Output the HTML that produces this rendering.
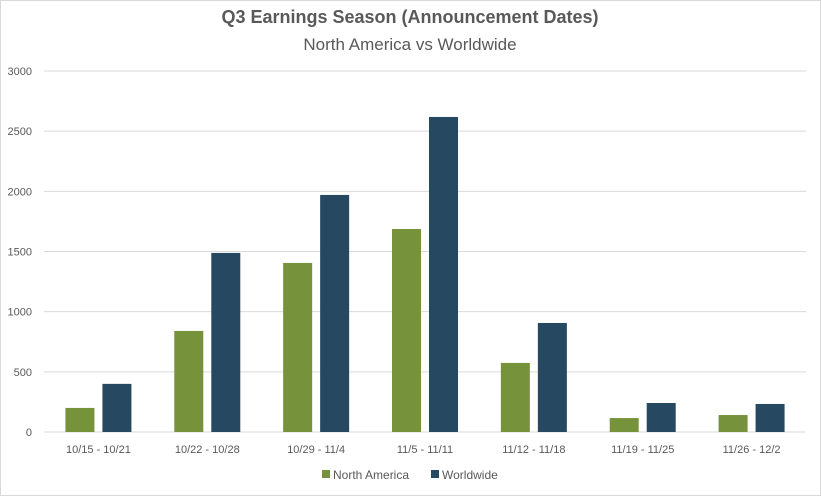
<!DOCTYPE html>
<html><head><meta charset="utf-8"><style>
body{margin:0;background:#fff;font-family:"Liberation Sans",sans-serif;}
svg{display:block}
</style></head><body>
<svg id="chart" width="821" height="496" xmlns="http://www.w3.org/2000/svg">
<rect x="0.5" y="0.5" width="820" height="495" fill="#fff" stroke="#d9d9d9"/>
<text x="410" y="23" text-anchor="middle" font-size="18" font-weight="bold" fill="#595959">Q3 Earnings Season (Announcement Dates)</text>
<text x="410" y="50" text-anchor="middle" font-size="17" fill="#595959">North America vs Worldwide</text>
<g id="grid"></g><g id="bars"></g><g id="xlabels"></g>
<g>
<rect x="322" y="470" width="8" height="8" fill="#76933c"/>
<text x="333" y="479" font-size="12" fill="#595959">North America</text>
<rect x="431" y="470" width="8" height="8" fill="#264861"/>
<text x="442" y="479" font-size="12" fill="#595959">Worldwide</text>
</g>
</svg>
<script>
const categories=["10/15 - 10/21","10/22 - 10/28","10/29 - 11/4","11/5 - 11/11","11/12 - 11/18","11/19 - 11/25","11/26 - 12/2"];
const northAmerica=[200,840,1405,1687,574,116,141];
const worldwide=[400,1488,1970,2618,906,241,233];
const yTicks=[0,500,1000,1500,2000,2500,3000];
const ns="http://www.w3.org/2000/svg";
const x0=44,x1=806,yBase=432,yTop=71,yMax=3000;
const y=v=>yBase-(v/yMax)*(yBase-yTop);
const bw=(x1-x0)/categories.length;
const cx=i=>x0+bw*(i+0.5);
function mk(tag,attrs){const e=document.createElementNS(ns,tag);for(const k in attrs)e.setAttribute(k,attrs[k]);return e;}
const grid=document.getElementById('grid');
yTicks.forEach(t=>{
 const l=mk('line',{x1:x0,x2:x1,y1:y(t),y2:y(t),stroke:'#d9d9d9','stroke-width':1});
 
 
 grid.appendChild(l);
 const tx=mk('text',{x:32,y:y(t)+4,'text-anchor':'end','font-size':11,fill:'#595959'});
 tx.textContent=t;
 
 
 grid.appendChild(tx);
});
const bars=document.getElementById('bars'),xl=document.getElementById('xlabels');
categories.forEach((c,i)=>{
 const a=mk('rect',{x:cx(i)-33,y:y(northAmerica[i]),width:29,height:yBase-y(northAmerica[i]),fill:'#76933c'});
 
 
 bars.appendChild(a);
 const b=mk('rect',{x:cx(i)+4,y:y(worldwide[i]),width:29,height:yBase-y(worldwide[i]),fill:'#264861'});
 
 
 bars.appendChild(b);
 const t=mk('text',{x:cx(i),y:453,'text-anchor':'middle','font-size':11,fill:'#595959'});
 t.textContent=c;
 
 
 xl.appendChild(t);
});
</script>
</body></html>
